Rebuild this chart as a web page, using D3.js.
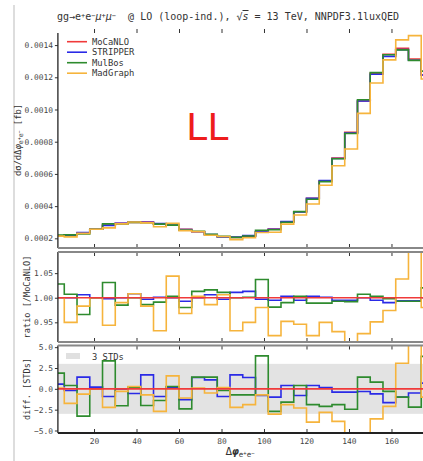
<!DOCTYPE html>
<html lang="en">
<head>
<meta charset="UTF-8">
<script src="https://d3js.org/d3.v7.min.js"></script>
<title>LL</title>
<style>
    body { margin: 0; background: #fff; }
    text { font-family: "DejaVu Sans Mono", monospace; fill: #333; }
    .tick text { fill: #444; font-size: 7.9px; }
    .tick line { stroke: #333; }
    .domain { display: none; }
</style>
</head>
<body>
<div id="chart"></div>
<script>
    // bin lower edges (bins are 6 wide, plotted from 3 to 177)
    var binEdges = [0, 6, 12, 18, 24, 30, 36, 42, 48, 54, 60, 66, 72, 78, 84,
                    90, 96, 102, 108, 114, 120, 126, 132, 138, 144, 150, 156, 162, 168, 174];

    // MoCaNLO cross section per bin [fb]
    var mocanlo = [0.000214, 0.000220, 0.000235, 0.000256, 0.000281, 0.000293, 0.000299, 0.000301,
                   0.000291, 0.000281, 0.000256, 0.000241, 0.000222, 0.000210, 0.000206, 0.000214,
                   0.000241, 0.000258, 0.000303, 0.000365, 0.000448, 0.000558, 0.000699, 0.000858,
                   0.001053, 0.001225, 0.001343, 0.001380, 0.001314, 0.001214];

    // ratios to MoCaNLO
    var ratioStripper = [1.000, 1.000, 1.006, 1.000, 0.998, 1.000, 1.008, 0.997, 1.001, 1.000,
                         0.993, 1.000, 1.006, 0.997, 1.011, 1.013, 0.997, 0.995, 1.003, 0.995,
                         1.003, 1.001, 0.995, 0.995, 1.000, 0.995, 0.990, 0.994, 0.994, 1.000];
    var ratioMulBos = [1.028, 1.007, 0.966, 1.000, 1.031, 0.985, 1.000, 0.986, 0.991, 1.003,
                       0.980, 1.013, 1.016, 1.011, 1.000, 1.001, 1.037, 0.981, 0.990, 1.003,
                       0.989, 0.989, 0.993, 0.992, 1.007, 1.003, 0.998, 0.993, 0.993, 1.020];
    var ratioMadGraph = [1.000, 0.950, 0.983, 1.000, 0.944, 0.990, 1.008, 0.983, 0.933, 1.044,
                         0.968, 1.003, 0.986, 1.006, 0.933, 0.950, 0.980, 0.923, 0.952, 0.946,
                         0.923, 0.950, 0.931, 0.880, 0.927, 0.951, 0.974, 1.038, 1.110, 0.980];

    // difference to MoCaNLO in standard deviations
    var diffStripper = [0.56, -0.2, 1.4, 0.2, -0.92, 0.0, -0.56, 1.67, -0.92, 0.2,
                        -1.3, 1.36, 1.08, -0.92, 1.67, 1.36, -0.8, -1.0, 0.4, -0.8,
                        0.4, 0.16, -0.4, -0.4, -0.32, -0.6, -1.65, -1.0, -0.5, 0.68];
    var diffMulBos = [1.88, 0.4, -3.27, 0.0, 3.35, -2.03, 0.2, -2.0, -1.4, 0.28,
                      -2.4, 1.4, 1.4, -0.2, -0.72, -0.72, 3.95, -2.7, -1.6, 0.4,
                      -1.9, -2.1, -1.9, -2.45, 1.4, 0.8, -0.3, -1.0, -2.2, 3.9];
    var diffMadGraph = [0.1, -1.75, -0.64, 0.0, -2.23, -0.3, 0.28, -0.72, -2.7, 1.55,
                        -1.1, 0.08, -0.5, 0.16, -2.23, -1.9, -0.72, -3.03, -1.9, -2.3,
                        -4.0, -2.83, -3.9, -7.0, -6.0, -3.6, -2.1, 3.07, 7.0, -1.0];

    var seriesNames = ["MoCaNLO", "STRIPPER", "MulBos", "MadGraph"];
    var colors = ["#f03a3a", "#2a2ae6", "#2e8b2e", "#f6b43c"];

    var ratios = [mocanlo.map(function (v) { return v / v; }), ratioStripper, ratioMulBos, ratioMadGraph];
    var diffs = [mocanlo.map(function () { return 0; }), diffStripper, diffMulBos, diffMadGraph];
    var mains = ratios.map(function (r) { return r.map(function (d, i) { return d * mocanlo[i]; }); });

    var xTicks = [20, 40, 60, 80, 100, 120, 140, 160];

    var svg = d3.select("#chart").append("svg")
        .attr("width", 423)
        .attr("height", 461);

    // screenshot frame line on the left
    svg.append("line")
        .attr("x1", 14).attr("x2", 14).attr("y1", 5).attr("y2", 461)
        .attr("stroke", "#ddd").attr("stroke-width", 2);

    var x = d3.scaleLinear().domain([3, 177]).range([57.9, 427.6]);

    var panels = [
        { id: "main", top: 33, bottom: 248, y: d3.scaleLinear().domain([0.00014, 0.001475]).range([248, 33]) },
        { id: "ratio", top: 252, bottom: 342, y: d3.scaleLinear().domain([0.91, 1.093]).range([342, 252]) },
        { id: "diff", top: 345.5, bottom: 433, y: d3.scaleLinear().domain([-5.3, 5.2]).range([433, 345.5]) }
    ];

    panels.forEach(function (p) {
        svg.append("clipPath").attr("id", "clip-" + p.id)
            .append("rect")
            .attr("x", x(3)).attr("y", p.top)
            .attr("width", x(177) - x(3)).attr("height", p.bottom - p.top);
    });

    function stepPoints(vals) {
        var pts = vals.map(function (v, i) { return [Math.max(3, binEdges[i]), v]; });
        pts.push([177, vals[vals.length - 1]]);
        return pts;
    }

    function drawLines(p, data) {
        var line = d3.line()
            .x(function (d) { return x(d[0]); })
            .y(function (d) { return p.y(d[1]); })
            .curve(d3.curveStepAfter);
        var g = svg.append("g").attr("clip-path", "url(#clip-" + p.id + ")");
        // reference drawn last so it sits on top in ratio/diff panels
        var order = p.id === "main" ? [0, 1, 2, 3] : [1, 2, 3, 0];
        order.forEach(function (k) {
            g.append("path")
                .attr("d", line(stepPoints(data[k])))
                .attr("fill", "none")
                .attr("stroke", colors[k])
                .attr("stroke-width", 1.6);
        });
    }

    // 3 STD band
    var pd = panels[2];
    svg.append("rect")
        .attr("x", x(3)).attr("width", x(177) - x(3))
        .attr("y", pd.y(3)).attr("height", pd.y(-3) - pd.y(3))
        .attr("fill", "#e3e3e3");

    drawLines(panels[0], mains);
    drawLines(panels[1], ratios);
    drawLines(panels[2], diffs);

    // y axes
    var yFormats = [d3.format(".4f"), d3.format(".2f"), function (d) { return d3.format(".1f")(d).replace("-", "\u2212"); }];
    var yTickVals = [[0.0002, 0.0004, 0.0006, 0.0008, 0.0010, 0.0012, 0.0014], [0.95, 1.00, 1.05], [-5, -2.5, 0, 2.5, 5]];
    panels.forEach(function (p, i) {
        svg.append("g")
            .attr("transform", "translate(" + x(3) + ",0)")
            .call(d3.axisLeft(p.y).tickValues(yTickVals[i]).tickFormat(yFormats[i]).tickSize(3).tickPadding(2));

        // x ticks on top and bottom edges
        svg.append("g")
            .attr("transform", "translate(0," + p.bottom + ")")
            .call(d3.axisTop(x).tickValues(xTicks).tickSize(4).tickFormat(""));
        svg.append("g")
            .attr("transform", "translate(0," + p.top + ")")
            .call(d3.axisTop(x).tickValues(xTicks).tickSize(i === 0 ? 4 : -4).tickFormat(""));

        // spines
        svg.append("line")
            .attr("x1", x(3)).attr("x2", x(3)).attr("y1", p.top).attr("y2", p.bottom)
            .attr("stroke", "#222").attr("stroke-width", 1.3);
        svg.append("line")
            .attr("x1", x(177)).attr("x2", x(177)).attr("y1", p.top).attr("y2", p.bottom)
            .attr("stroke", "#222").attr("stroke-width", 1.3);
        if (i > 0) {
            svg.append("line")
                .attr("x1", x(3)).attr("x2", x(177)).attr("y1", p.top).attr("y2", p.top)
                .attr("stroke", "#888").attr("stroke-width", 1.8);
        }
        svg.append("line")
            .attr("x1", x(3)).attr("x2", x(177)).attr("y1", p.bottom).attr("y2", p.bottom)
            .attr("stroke", i === 2 ? "#222" : "#888").attr("stroke-width", 1.8);
    });

    // x tick labels
    svg.append("g")
        .attr("transform", "translate(0,433)")
        .call(d3.axisBottom(x).tickValues(xTicks).tickSize(0).tickPadding(5));

    // axis titles
    var yl = svg.append("text")
        .attr("transform", "translate(21,140) rotate(-90)")
        .attr("text-anchor", "middle")
        .style("font-size", "8.8px");
    yl.append("tspan").text("d\u03c3/d\u0394");
    yl.append("tspan").text("\u03c6").style("font-style", "italic");
    yl.append("tspan").text("e").style("font-size", "6.5px").attr("baseline-shift", "-25%");
    yl.append("tspan").text("+").style("font-size", "5px").attr("baseline-shift", "10%");
    yl.append("tspan").text("e").style("font-size", "6.5px").attr("baseline-shift", "-25%");
    yl.append("tspan").text("\u2212").style("font-size", "5px").attr("baseline-shift", "10%");
    yl.append("tspan").text(" [fb]");

    svg.append("text")
        .attr("transform", "translate(30,297) rotate(-90)")
        .attr("text-anchor", "middle")
        .style("font-size", "8.6px")
        .text("ratio [/MoCaNLO]");

    svg.append("text")
        .attr("transform", "translate(30,389) rotate(-90)")
        .attr("text-anchor", "middle")
        .style("font-size", "8.6px")
        .text("diff. [STDs]");

    var xl = svg.append("text")
        .attr("x", 240).attr("y", 455)
        .attr("text-anchor", "middle")
        .style("font-size", "11px");
    xl.append("tspan").text("\u0394");
    xl.append("tspan").text("\u03c6").style("font-style", "italic").style("font-weight", "bold");
    xl.append("tspan").text("e").style("font-size", "7.5px").attr("baseline-shift", "-25%");
    xl.append("tspan").text("+").style("font-size", "5.5px").attr("baseline-shift", "5%");
    xl.append("tspan").text("e").style("font-size", "7.5px").attr("baseline-shift", "-25%");
    xl.append("tspan").text("\u2212").style("font-size", "5.5px").attr("baseline-shift", "5%");

    // title
    var t = svg.append("text")
        .attr("x", 57).attr("y", 20)
        .style("font-size", "10px")
        .style("white-space", "pre");
    t.append("tspan").text("gg\u2192e");
    t.append("tspan").text("+").style("font-size", "7px").attr("baseline-shift", "35%");
    t.append("tspan").text("e");
    t.append("tspan").text("\u2212").style("font-size", "7px").attr("baseline-shift", "35%");
    t.append("tspan").text("\u03bc").style("font-style", "italic");
    t.append("tspan").text("+").style("font-size", "7px").attr("baseline-shift", "35%");
    t.append("tspan").text("\u03bc").style("font-style", "italic");
    t.append("tspan").text("\u2212").style("font-size", "7px").attr("baseline-shift", "35%");
    t.append("tspan").text("  @ LO (loop-ind.), \u221a");
    t.append("tspan").text("s").style("text-decoration", "overline").style("font-style", "italic");
    t.append("tspan").text(" = 13 TeV, NNPDF3.1luxQED");

    // LL label
    svg.append("text")
        .attr("x", 186).attr("y", 140)
        .style("font-family", "DejaVu Sans, sans-serif")
        .style("font-size", "38px")
        .style("fill", "#ee1c1c")
        .text("LL");

    // legend
    seriesNames.forEach(function (name, i) {
        var ly = 41.7 + i * 10.5;
        svg.append("line")
            .attr("x1", 67).attr("x2", 87).attr("y1", ly).attr("y2", ly)
            .attr("stroke", colors[i]).attr("stroke-width", 1.6);
        svg.append("text")
            .attr("x", 92).attr("y", ly + 3)
            .style("font-size", "8.8px")
            .text(name);
    });

    // band legend
    svg.append("rect")
        .attr("x", 66).attr("y", 353).attr("width", 14).attr("height", 6)
        .attr("fill", "#e0e0e0");
    svg.append("text")
        .attr("x", 92).attr("y", 359.5)
        .style("font-size", "8.8px")
        .text("3 STDs");
</script>
</body>
</html>
